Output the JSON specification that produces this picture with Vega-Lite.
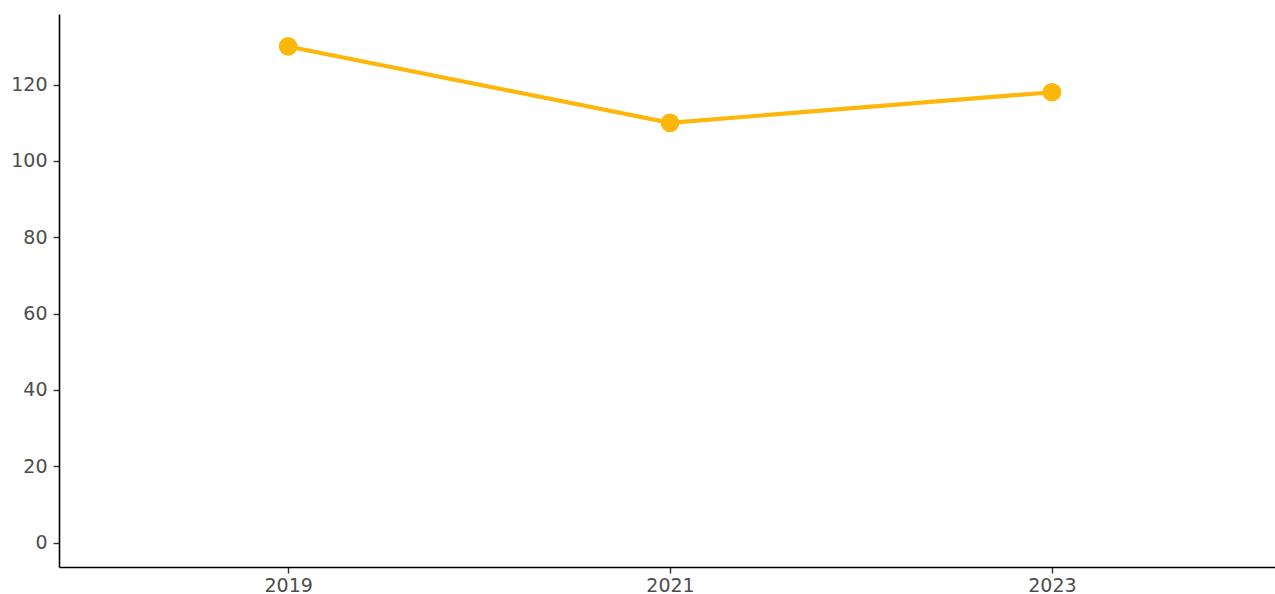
{
  "$schema": "https://vega.github.io/schema/vega-lite/v6.json",
  "autosize": {"type": "none"},
  "padding": {"left": 59, "top": 14, "right": 0, "bottom": 27},
  "width": 1222,
  "height": 553,
  "background": "white",
  "config": {
    "view": {"stroke": null},
    "axis": {
      "grid": false,
      "domainColor": "#000000",
      "domainWidth": 1.6,
      "tickColor": "#333333",
      "tickSize": 6,
      "tickWidth": 1.4,
      "labelFont": "DejaVu Sans",
      "labelFontSize": 19,
      "labelColor": "#4D4D4D",
      "title": null
    }
  },
  "data": {
    "values": [
      {"year": "2019", "value": 130},
      {"year": "2021", "value": 110},
      {"year": "2023", "value": 118}
    ]
  },
  "encoding": {
    "x": {"field": "year", "type": "ordinal", "scale": {"type": "point", "padding": 0.6}, "axis": {"labelAngle": 0, "labelPadding": 3}},
    "y": {"field": "value", "type": "quantitative", "scale": {"domain": [-6.4, 138.5], "nice": false, "zero": false}, "axis": {"values": [0, 20, 40, 60, 80, 100, 120], "labelPadding": 6}}
  },
  "layer": [
    {"mark": {"type": "line", "color": "#FDB60A", "strokeWidth": 4.2}},
    {"mark": {"type": "point", "filled": true, "opacity": 1, "color": "#FDB60A", "size": 350}}
  ]
}
